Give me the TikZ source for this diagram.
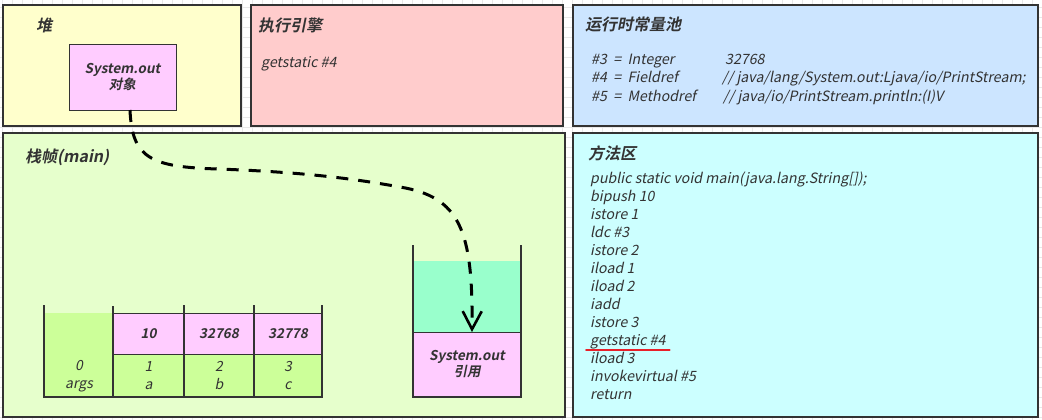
\documentclass[tikz,border=0pt]{standalone}
\usepackage{fontspec}
\setmainfont{Noto Sans CJK SC}[
  BoldFont={Noto Sans CJK SC Bold},
  ItalicFont={Noto Sans CJK SC},
  ItalicFeatures={FakeSlant=0.2},
  BoldItalicFont={Noto Sans CJK SC Bold},
  BoldItalicFeatures={FakeSlant=0.2}]
\usetikzlibrary{arrows.meta}
\definecolor{heapc}{HTML}{FFFFCC}
\definecolor{execc}{HTML}{FFCCCC}
\definecolor{poolc}{HTML}{CCE5FF}
\definecolor{framec}{HTML}{E6FFCC}
\definecolor{methc}{HTML}{CCFFFF}
\definecolor{pinkc}{HTML}{FFCCFF}
\definecolor{greenc}{HTML}{CCFF99}
\definecolor{tealc}{HTML}{99FFCC}
\definecolor{edgec}{HTML}{333333}
\definecolor{txtc}{HTML}{333333}
\definecolor{gridc}{HTML}{E8E8E8}
\definecolor{redc}{HTML}{E8202A}
\tikzset{
  panel/.style={draw=edgec, line width=1.5pt, inner sep=0pt, outer sep=0pt, anchor=north west},
  cell/.style={inner sep=0pt, outer sep=0pt, anchor=north west, text=txtc},
  cellb/.style={cell, draw=edgec, line width=1pt},
  wall/.style={draw=edgec, line width=2.6pt},
  head/.style={inner sep=0pt, anchor=west, text=txtc, font=\fontsize{16}{18}\selectfont\bfseries\itshape},
  code/.style={inner sep=0pt, anchor=base west, text=txtc, font=\fontsize{14.2}{18}\selectfont\itshape},
  bold/.style={font=\fontsize{13.5}{16}\selectfont\bfseries\itshape, align=center},
  pairtxt/.style={font=\fontsize{14}{18}\selectfont\itshape, align=center},
  refarrow/.style={draw=black, line width=3pt, dash pattern=on 12pt off 10pt,
    -{Straight Barb[length=18pt,width=19pt,line width=2.6pt]}},
  underl/.style={draw=redc, line width=2pt, line cap=round},
  gridline/.style={draw=gridc, line width=0.8pt}
}
\begin{document}
\begin{tikzpicture}[x=1pt,y=-1pt]
\useasboundingbox (0,0) rectangle (1042,420);
\fill[white] (0,0) rectangle (1042,420);
\foreach \i in {2,12,...,1042} \draw[gridline] (\i,0) -- (\i,420);
\foreach \j in {7,17,...,420} \draw[gridline] (0,\j) -- (1042,\j);

% panels
\node[panel, fill=heapc, minimum width=238, minimum height=121] (heap) at (3,5) {};
\node[panel, fill=execc, minimum width=312, minimum height=121] (exec) at (251,5) {};
\node[panel, fill=poolc, minimum width=465, minimum height=121] (pool) at (573,5) {};
\node[panel, fill=framec, minimum width=562, minimum height=284] (frame) at (3,133) {};
\node[panel, fill=methc, minimum width=465, minimum height=284] (meth) at (573,133) {};

% headings
\node[head] (heapt) at (36,25) {堆};
\node[head] (exect) at (258,25) {执行引擎};
\node[head] (poolt) at (585,25) {运行时常量池};
\node[head] (framet) at (25,157) {栈帧(main)};
\node[head] (metht) at (588,153) {方法区};

% heap object
\node[cellb, fill=pinkc, minimum width=107, minimum height=65, bold] (obj) at (69,45) {System.out\\对象};

% execution engine
\node[code] (exe1) at (261,68) {getstatic \#4};

% constant pool
\node[code] (c1a) at (591,65) {\#3 \ = \ Integer};
\node[code] (c1b) at (725,65) {32768};
\node[code] (c2a) at (591,83) {\#4 \ = \ Fieldref};
\node[code] (c2b) at (722,83) {// java/lang/System.out:Ljava/io/PrintStream;};
\node[code] (c3a) at (591,101) {\#5 \ = \ Methodref};
\node[code] (c3b) at (723,101) {// java/io/PrintStream.println:(I)V};

% method area code
\foreach \t [count=\k] in {public static void main(java.lang.String[]);, bipush 10, istore 1, ldc \#3, istore 2, iload 1, iload 2, iadd, istore 3, getstatic \#4, iload 3, invokevirtual \#5, return}
  \node[code] (l\k) at (590,{165+18*\k}) {\t};
\draw[underl] ([xshift=-4pt,yshift=-5pt]l10.base west) -- ([xshift=4pt,yshift=-5pt]l10.base east);

% local variable table
\node[cell, fill=greenc, minimum width=69, minimum height=84] (g0) at (44,313) {};
\node[pairtxt, text=txtc, inner sep=0pt] (g0t) at (79,376) {0\\args};
\node[cellb, fill=pinkc, minimum width=71, minimum height=41, bold] (p1) at (113,313) {10};
\node[cellb, fill=pinkc, minimum width=70, minimum height=41, bold] (p2) at (184,313) {32768};
\node[cellb, fill=pinkc, minimum width=68, minimum height=41, bold] (p3) at (254,313) {32778};
\node[cellb, fill=greenc, minimum width=71, minimum height=43, pairtxt] (g1) at (113,354) {1\\a};
\node[cellb, fill=greenc, minimum width=70, minimum height=43, pairtxt] (g2) at (184,354) {2\\b};
\node[cellb, fill=greenc, minimum width=68, minimum height=43, pairtxt] (g3) at (254,354) {3\\c};
\draw[wall] (44,305) -- (44,397) -- (322,397) -- (322,305);
\draw[wall] (113,306) -- (113,397);
\draw[wall] (184,305) -- (184,397);
\draw[wall] (254,305) -- (254,397);

% operand stack
\node[cell, fill=tealc, minimum width=108, minimum height=71] (top) at (413,261) {};
\node[cellb, fill=pinkc, minimum width=108, minimum height=65, bold] (ref) at (413,332) {System.out\\引用};
\draw[wall] (413,245) -- (413,397) -- (521,397) -- (521,245);

% reference arrow
\draw[refarrow] ([xshift=7.5pt]obj.south) .. controls (132,158) and (150,167) .. (218,169)
  .. controls (300,172) and (350,178) .. (400,187)
  .. controls (460,197) and (473,230) .. ([xshift=5pt]ref.north);
\end{tikzpicture}
\end{document}
